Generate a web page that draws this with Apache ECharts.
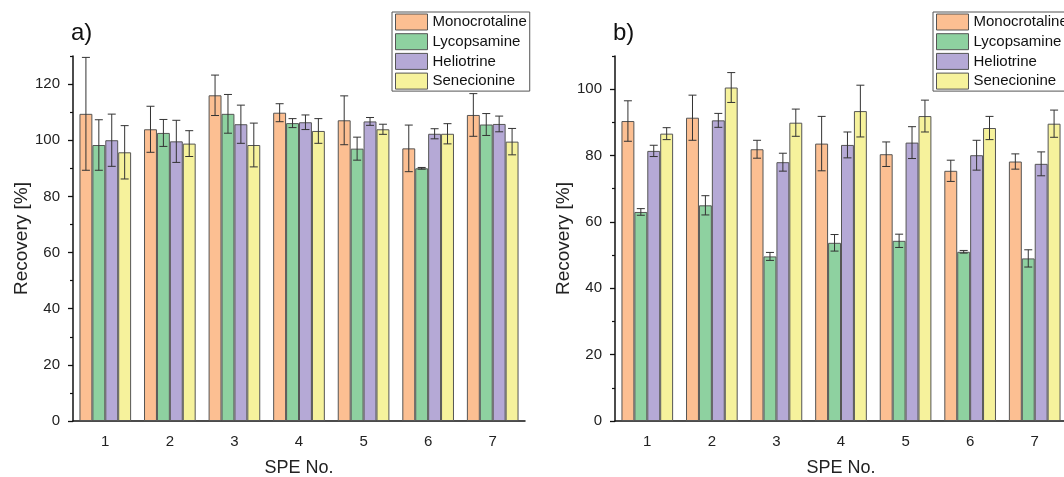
<!DOCTYPE html>
<html>
<head>
<meta charset="utf-8">
<script src="https://cdn.jsdelivr.net/npm/echarts@6/dist/echarts.min.js"></script>
<style>
  html, body { margin: 0; padding: 0; background: #fff; }
  #chart { width: 1064px; height: 477px; }
</style>
</head>
<body>
<div id="chart"></div>
<script>
const categories = ['1', '2', '3', '4', '5', '6', '7'];
const seriesNames = ['Monocrotaline', 'Lycopsamine', 'Heliotrine', 'Senecionine'];
const colors = ['#FCBF92', '#8ED1A0', '#B5A9D6', '#F6F29C'];

// panel a)
const monoA = [109.4, 103.9, 116.0, 109.8, 107.1, 97.1, 109.0];
const monoAErr = [20.1, 8.2, 7.2, 3.2, 8.7, 8.3, 7.6];
const lycoA = [98.3, 102.6, 109.4, 106.1, 97.0, 90.0, 105.6];
const lycoAErr = [9.0, 4.8, 6.9, 1.6, 4.1, 0.3, 3.9];
const helioA = [100.0, 99.6, 105.7, 106.4, 106.7, 102.3, 105.8];
const helioAErr = [9.3, 7.5, 6.8, 2.6, 1.4, 1.8, 2.8];
const senecA = [95.7, 98.8, 98.3, 103.3, 103.9, 102.3, 99.5];
const senecAErr = [9.5, 4.6, 7.8, 4.4, 1.8, 3.6, 4.7];

// panel b)
const monoB = [90.4, 91.4, 81.9, 83.6, 80.4, 75.4, 78.2];
const monoBErr = [6.1, 6.8, 2.7, 8.2, 3.7, 3.2, 2.3];
const lycoB = [63.0, 65.0, 49.6, 53.7, 54.3, 51.0, 49.0];
const lycoBErr = [1.0, 2.9, 1.2, 2.5, 2.0, 0.4, 2.6];
const helioB = [81.4, 90.6, 78.0, 83.2, 83.9, 80.1, 77.5];
const helioBErr = [1.7, 2.1, 2.7, 3.9, 4.8, 4.5, 3.6];
const senecB = [86.6, 100.5, 89.9, 93.4, 91.9, 88.3, 89.6];
const senecBErr = [1.8, 4.5, 4.1, 7.8, 4.8, 3.5, 4.1];

const yTicksA = [0, 20, 40, 60, 80, 100, 120];
const yMinorA = [10, 30, 50, 70, 90, 110, 130];
const yTicksB = [0, 20, 40, 60, 80, 100];
const yMinorB = [10, 30, 50, 70, 90, 110];

const panels = [
  { vals: [monoA, lycoA, helioA, senecA], errs: [monoAErr, lycoAErr, helioAErr, senecAErr] },
  { vals: [monoB, lycoB, helioB, senecB], errs: [monoBErr, lycoBErr, helioBErr, senecBErr] }
];

const FONT = 'Liberation Sans, Arial, sans-serif';
const axisLine = { show: true, lineStyle: { color: '#111', width: 1.5 } };

const grids = [
  { left: 73, top: 56, width: 452, height: 365, outerBoundsMode: 'none' },
  { left: 615, top: 56, width: 452, height: 365, outerBoundsMode: 'none' }
];

const xAxes = [];
const yAxes = [];
[0, 1].forEach(function (g) {
  // main category axis, ticks at the labels
  xAxes.push({
    type: 'category', gridIndex: g, data: categories,
    axisLine: axisLine,
    axisTick: { alignWithLabel: true, length: 5, lineStyle: { color: '#111', width: 1.3 } },
    axisLabel: { color: '#222', fontSize: 15, fontFamily: FONT, margin: 13 },
    name: 'SPE No.', nameLocation: 'middle', nameGap: 38,
    nameTextStyle: { color: '#222', fontSize: 18, fontFamily: FONT }
  });
  // small ticks between groups
  xAxes.push({
    type: 'category', gridIndex: g, data: categories, position: 'bottom',
    axisLine: { show: false },
    axisTick: { length: 3, lineStyle: { color: '#111', width: 1.2 } },
    axisLabel: { show: false }
  });
  const max = g === 0 ? 130 : 110;
  yAxes.push({
    type: 'value', gridIndex: g, min: 0, max: max,
    splitLine: { show: false },
    axisLine: axisLine,
    axisTick: { show: true, length: 5, customValues: g === 0 ? yTicksA : yTicksB, lineStyle: { color: '#111', width: 1.3 } },
    axisLabel: { customValues: g === 0 ? yTicksA : yTicksB, color: '#222', fontSize: 15, fontFamily: FONT, margin: 13 },
    name: 'Recovery [%]', nameLocation: 'middle', nameGap: 41,
    nameTextStyle: { color: '#222', fontSize: 19, fontFamily: FONT }
  });
  yAxes.push({
    type: 'value', gridIndex: g, min: 0, max: max, position: 'left',
    splitLine: { show: false },
    axisLine: { show: false },
    axisTick: { show: true, length: 3, customValues: g === 0 ? yMinorA : yMinorB, lineStyle: { color: '#111', width: 1.2 } },
    axisLabel: { show: false }
  });
});

const series = [];
panels.forEach(function (p, g) {
  p.vals.forEach(function (vals, k) {
    series.push({
      name: seriesNames[k], type: 'bar',
      xAxisIndex: g * 2, yAxisIndex: g * 2,
      data: vals,
      barGap: 0, barCategoryGap: '20%',
      itemStyle: { color: colors[k], borderColor: '#555', borderWidth: 1 },
      emphasis: { disabled: true }
    });
  });
  p.vals.forEach(function (vals, k) {
    series.push({
      type: 'custom',
      xAxisIndex: g * 2, yAxisIndex: g * 2,
      z: 5,
      silent: true,
      data: vals.map(function (v, i) { return [i, v, p.errs[k][i]]; }),
      renderItem: function (params, api) {
        const i = api.value(0), v = api.value(1), e = api.value(2);
        const bw = api.size([1, 0])[0] * 0.8 / 4;
        const off = (k - 1.5) * bw;
        const top = api.coord([i, v + e]);
        const bot = api.coord([i, v - e]);
        const x = top[0] + off;
        const cap = 4;
        const st = { stroke: '#333', lineWidth: 1 };
        return {
          type: 'group',
          children: [
            { type: 'line', shape: { x1: x, y1: top[1], x2: x, y2: bot[1] }, style: st },
            { type: 'line', shape: { x1: x - cap, y1: top[1], x2: x + cap, y2: top[1] }, style: st },
            { type: 'line', shape: { x1: x - cap, y1: bot[1], x2: x + cap, y2: bot[1] }, style: st }
          ]
        };
      }
    });
  });
});

function makeLegend(left) {
  return {
    data: seriesNames, orient: 'vertical', left: left, top: 12,
    itemWidth: 32, itemHeight: 16, itemGap: 2.7,
    padding: [1.5, 3, 1.5, 3],
    borderColor: '#555', borderWidth: 1,
    icon: 'rect',
    itemStyle: { borderColor: '#555', borderWidth: 1 },
    textStyle: { color: '#111', fontSize: 15, fontFamily: FONT, padding: [0, 0, 0, 0] },
    selectedMode: false
  };
}

const option = {
  animation: false,
  backgroundColor: '#fff',
  title: [
    { text: 'a)', left: 66, top: 16, textStyle: { fontSize: 24, fontWeight: 'normal', color: '#111', fontFamily: FONT } },
    { text: 'b)', left: 608, top: 16, textStyle: { fontSize: 24, fontWeight: 'normal', color: '#111', fontFamily: FONT } }
  ],
  legend: [makeLegend(392), makeLegend(933)],
  grid: grids,
  xAxis: xAxes,
  yAxis: yAxes,
  series: series
};

const myChart = echarts.init(document.getElementById('chart'));
myChart.setOption(option);
</script>
</body>
</html>
